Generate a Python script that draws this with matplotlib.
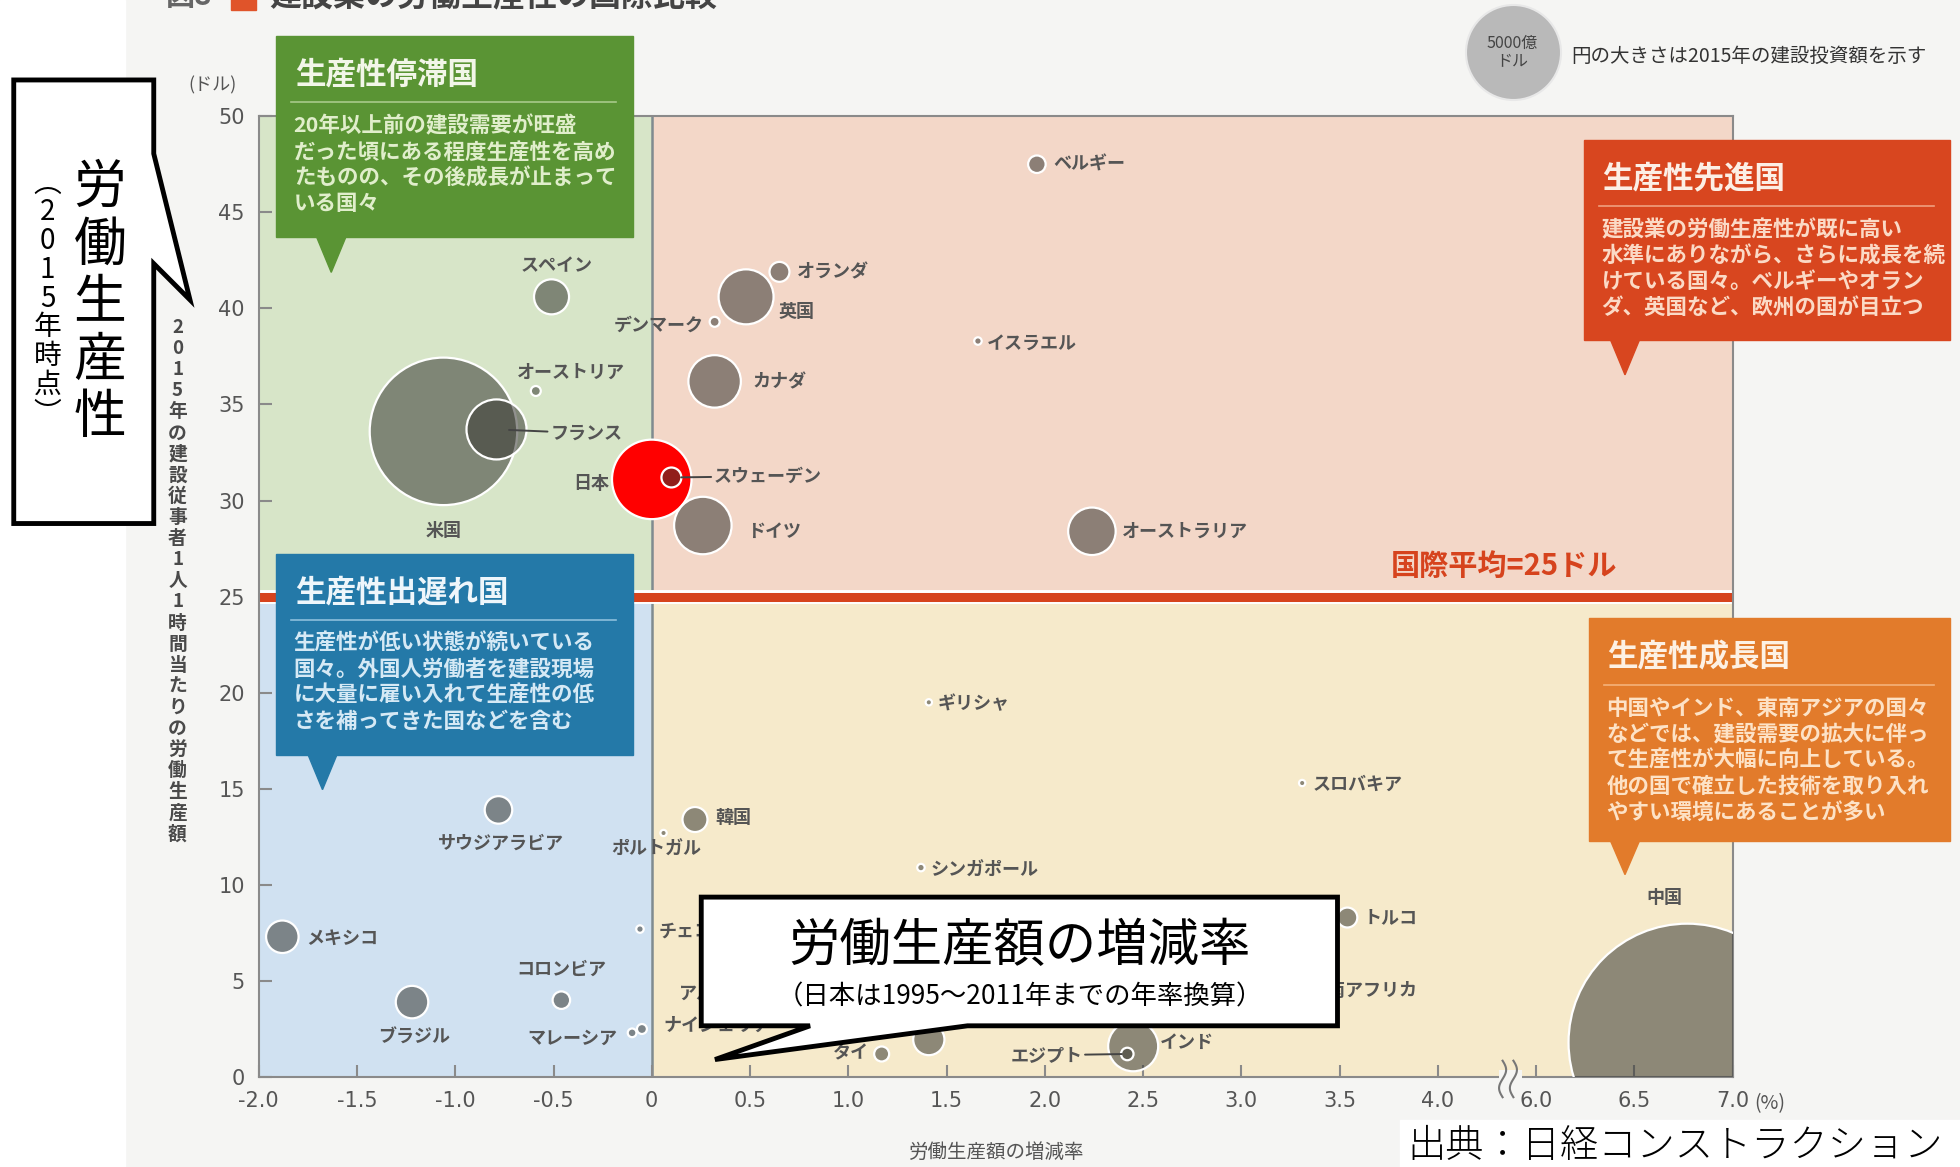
import numpy as np
import matplotlib
matplotlib.use('Agg')
import matplotlib.pyplot as plt
from matplotlib.patches import Rectangle, Polygon

plt.rcParams['font.family'] = ['Noto Sans CJK JP', 'DejaVu Sans']

# ---- data ----
countries = ['ベルギー', 'オランダ', '英国', 'デンマーク', 'イスラエル', 'カナダ',
             'スペイン', 'オーストリア', '米国', 'フランス', '日本', 'スウェーデン',
             'ドイツ', 'オーストラリア', 'ギリシャ', 'スロバキア', '韓国', 'ポルトガル',
             'サウジアラビア', 'シンガポール', 'メキシコ', 'チェコ', 'コロンビア', 'ブラジル',
             'マレーシア', 'ナイジェリア', 'アルゼンチン', 'タイ', '', 'エジプト',
             'インド', 'トルコ', '南アフリカ', '中国']
growth = [1.96, 0.65, 0.48, 0.32, 1.66, 0.32,
          -0.51, -0.59, -1.06, -0.79, 0.0, 0.10,
          0.26, 2.24, 1.41, 3.31, 0.22, 0.06,
          -0.78, 1.37, -1.88, -0.06, -0.46, -1.22,
          -0.10, -0.05, 0.50, 1.17, 1.41, 2.42,
          2.45, 3.54, 3.36, 6.77]                     # 労働生産額の増減率 (%)
productivity = [47.5, 41.9, 40.6, 39.3, 38.3, 36.2,
                40.6, 35.7, 33.6, 33.7, 31.1, 31.2,
                28.7, 28.4, 19.5, 15.3, 13.4, 12.7,
                13.9, 10.9, 7.3, 7.7, 4.0, 3.9,
                2.3, 2.5, 4.0, 1.2, 1.95, 1.2,
                1.6, 8.3, 4.5, 1.8]                   # ドル / 人・時間
invest = [170, 220, 1675, 55, 31, 1525,
          680, 55, 12050, 1995, 3500, 220,
          1830, 1250, 22, 22, 346, 22,
          420, 31, 585, 31, 170, 585,
          42, 55, 100, 125, 540, 87,
          1385, 220, 80, 31250]                       # 建設投資額 (億ドル)

y_ticks = [0, 5, 10, 15, 20, 25, 30, 35, 40, 45, 50]
x_tick_vals = [-2.0, -1.5, -1.0, -0.5, 0, 0.5, 1.0, 1.5, 2.0, 2.5, 3.0, 3.5, 4.0, 6.0, 6.5, 7.0]
x_tick_labels = ['-2.0', '-1.5', '-1.0', '-0.5', '0', '0.5', '1.0', '1.5', '2.0',
                 '2.5', '3.0', '3.5', '4.0', '6.0', '6.5', '7.0']
avg_line = 25
legend_value = 5000

# label offsets in reference pixels (dx, dy up, ha, leader)
label_pos = [(13, 0, 'left', 0), (14, 0, 'left', 0), (26, -12, 'left', 0), (-9, -3, 'right', 0),
             (7, -2, 'left', 0), (30, 0, 'left', 0), (4, 25, 'center', 0), (28, 15, 'center', 0),
             (0, -79, 'center', 0), (43, -3, 'left', 9), (-34, -3, 'right', 0), (34, 1, 'left', 7),
             (35, -5, 'left', 0), (24, 0, 'left', 0), (7, -1, 'left', 0), (8, -1, 'left', 0),
             (16, 2, 'left', 0), (-6, -13, 'center', 0), (2, -27, 'center', 0), (8, -2, 'left', 0),
             (19, -1, 'left', 0), (15, -2, 'left', 0), (0, 25, 'center', 0), (2, -28, 'center', 0),
             (-12, -4, 'right', 0), (17, 3, 'left', 0), (-57, 5, 'left', 0), (-10, 1, 'right', 0),
             (0, 0, 'left', 0), (-36, -1, 'right', 4), (21, 3, 'left', 0), (13, 0, 'left', 0),
             (12, 0, 'left', 0), (-18, 116, 'center', 0)]

W, H = 1568, 934   # reference frame used for layout


def F(x, y):
    return (x / W, 1 - y / H)


def brk(x):
    x = np.asarray(x, dtype=float)
    return np.where(x > 5, x - 1.5, x)


S_PER = 0.936  # marker area (pt^2) per 億ドル

fig = plt.figure(figsize=(19.6, 11.67), dpi=100)
fig.patch.set_facecolor('#f5f5f3')
fig.add_artist(Rectangle(F(0, H), 100 / W, 1, transform=fig.transFigure,
                         color='white', zorder=0))

ax = fig.add_axes([207 / W, 1 - 862 / H, (1386 - 207) / W, (862 - 93) / H])
ax.set_xlim(-2.0, 5.5)
ax.set_ylim(0, 50)

# quadrants
ax.fill_between([-2, 0], avg_line, 50, color='#d7e5c8', lw=0, zorder=0)
ax.fill_between([0, 5.5], avg_line, 50, color='#f3d7c8', lw=0, zorder=0)
ax.fill_between([-2, 0], 0, avg_line, color='#d0e1f1', lw=0, zorder=0)
ax.fill_between([0, 5.5], 0, avg_line, color='#f6eacb', lw=0, zorder=0)
ax.axvline(0, color='#7f8b90', lw=1.8, zorder=1)
ax.axhline(avg_line, color='white', lw=10, zorder=2)
ax.axhline(avg_line, color='#d6431d', lw=6.5, zorder=2)

# bubbles
gx = brk(growth)
py = np.array(productivity)
sz = np.array(invest) * S_PER
order = np.argsort(-sz)
fc = [(1.0, 0.0, 0.0, 1.0) if countries[i] == '日本' else (0.22, 0.22, 0.2, 0.55) for i in order]
ax.scatter(gx[order], py[order], s=sz[order], c=fc, edgecolors='white', linewidths=1.6, zorder=4)

for i, name in enumerate(countries):
    dx, dy, ha, lead = label_pos[i]
    if not name:
        continue
    kw = {}
    if lead:
        kw['arrowprops'] = dict(arrowstyle='-', color='#444444', lw=1.4,
                                shrinkA=0, shrinkB=lead)
    ax.annotate(name, xy=(gx[i], py[i]), xytext=(dx * 0.9, dy * 0.9),
                textcoords='offset points', ha=ha, va='center', fontsize=13,
                fontweight='bold', color='#555555', zorder=5, **kw)

# axes styling
for sp in ax.spines.values():
    sp.set_color('#8a8a8a')
    sp.set_linewidth(1.5)
ax.set_yticks(y_ticks)
ax.set_xticks(brk(x_tick_vals))
ax.set_xticklabels(x_tick_labels)
ax.tick_params(direction='in', length=9, width=1.5, color='#8a8a8a',
               labelsize=15, labelcolor='#555555')
ax.tick_params(axis='x', pad=10)
ax.tick_params(axis='y', pad=10)
for t in ax.get_xticklabels() + ax.get_yticklabels():
    t.set_family(['Liberation Sans Narrow', 'DejaVu Sans'])

# axis break
bx = 4.36
ax.add_patch(Rectangle((bx - 0.05, -0.35), 0.12, 0.7, color='#f5f5f3', lw=0,
                       clip_on=False, zorder=6))
tt = np.linspace(-1, 1, 30)
for k in (0.0, 0.055):
    ax.plot(bx - 0.03 + k + 0.018 * np.sin(tt * np.pi), tt * 0.95 - 0.1, color='#777777',
            lw=1.5, clip_on=False, zorder=7)

# text around axes
fig.text(*F(170, 68), '(ドル)', ha='center', va='center', fontsize=13, color='#555555')
fig.text(*F(1403, 883), '(%)', ha='left', va='center', fontsize=14, color='#555555')
fig.text(*F(797, 922), '労働生産額の増減率', ha='center', va='center', fontsize=14, color='#555555')
fig.text(*F(1113, 453), '国際平均=25ドル', ha='left', va='center', fontsize=21,
         fontweight='bold', color='#d6431d')

ylab = '2015年の建設従事者1人1時間当たりの労働生産額'
for k, ch in enumerate(ylab):
    fig.text(*F(142, 262 + k * 16.9), ch, ha='center', va='center', fontsize=13.5,
             fontweight='bold', color='#4a4a4a')

# title (cut at the top, as in the scan)
fig.text(*F(133, -3), '図8', ha='left', va='center', fontsize=21, fontweight='bold', color='#666666')
fig.add_artist(Rectangle(F(185, 8), 20 / W, 20 / H, transform=fig.transFigure, color='#e0542a'))
fig.text(*F(215, -3), '建設業の労働生産性の国際比較', ha='left', va='center', fontsize=23,
         fontweight='bold', color='#444444')

# size legend
ax.scatter([F(1210, 42)[0]], [F(1210, 42)[1]], s=legend_value * S_PER, color='#b9b9b9',
           edgecolors='#e8e8e8', linewidths=1.5, transform=fig.transFigure, clip_on=False)
fig.text(*F(1210, 42), '5000億\nドル', ha='center', va='center', fontsize=11.5,
         color='#444444', linespacing=1.1)
fig.text(*F(1257, 45), '円の大きさは2015年の建設投資額を示す', ha='left', va='center',
         fontsize=14, color='#333333')


# category boxes
def box(x0, y0, x1, y1, tipx, tipy, color, title, body, tcol, bcol, lcol):
    fig.add_artist(Rectangle(F(x0, y1), (x1 - x0) / W, (y1 - y0) / H,
                             transform=fig.transFigure, color=color, zorder=8))
    fig.add_artist(Polygon([F(tipx - 12, y1 - 1), F(tipx + 12, y1 - 1), F(tipx, tipy)],
                           closed=True, transform=fig.transFigure, color=color, zorder=8))
    fig.text(*F(x0 + 15, y0 + 31), title, ha='left', va='center', fontsize=22,
             fontweight='bold', color=tcol, zorder=9)
    fig.add_artist(plt.Line2D([(x0 + 12) / W, (x1 - 13) / W], [F(0, y0 + 53)[1]] * 2,
                              transform=fig.transFigure, color=lcol, lw=1.2, zorder=9))
    for k, line in enumerate(body):
        fig.text(*F(x0 + 14, y0 + 72 + k * 20.7), line, ha='left', va='center',
                 fontsize=15.5, fontweight='bold', color=bcol, zorder=9)


box(221, 29, 506, 190, 265, 218, '#5a9434', '生産性停滞国',
    ['20年以上前の建設需要が旺盛', 'だった頃にある程度生産性を高め',
     'たものの、その後成長が止まって', 'いる国々'],
    '#f2f6e8', '#e0eecb', '#a8c98a')
box(221, 443, 506, 604, 258, 632, '#2479a8', '生産性出遅れ国',
    ['生産性が低い状態が続いている', '国々。外国人労働者を建設現場',
     'に大量に雇い入れて生産性の低', 'さを補ってきた国などを含む'],
    '#eef6fb', '#d5e9f5', '#8cbfdc')
box(1267, 112, 1560, 272, 1300, 300, '#d8461f', '生産性先進国',
    ['建設業の労働生産性が既に高い', '水準にありながら、さらに成長を続',
     'けている国々。ベルギーやオラン', 'ダ、英国など、欧州の国が目立つ'],
    '#fcefe6', '#fbdac6', '#f0a07e')
box(1271, 495, 1560, 673, 1300, 700, '#e27b2b', '生産性成長国',
    ['中国やインド、東南アジアの国々', 'などでは、建設需要の拡大に伴っ',
     'て生産性が大幅に向上している。', '他の国で確立した技術を取り入れ',
     'やすい環境にあることが多い'],
    '#fdf1e4', '#fde2c6', '#f5b27a')

# overlay callouts
left_call = [(11, 64), (123, 64), (123, 123), (152, 240), (123, 211), (123, 419), (11, 419)]
fig.add_artist(Polygon([F(*p) for p in left_call], closed=True, transform=fig.transFigure,
                       facecolor='white', edgecolor='black', lw=3.5, zorder=10))
for k, ch in enumerate('労働生産性'):
    fig.text(*F(80, 150 + k * 46), ch, ha='center', va='center', fontsize=38,
             color='black', zorder=11)
for k, ch in enumerate('︵2015年時点︶'):
    fig.text(*F(38, 147 + k * 23), ch, ha='center', va='center', fontsize=20,
             color='black', zorder=11)

bottom_call = [(561, 718), (1070, 718), (1070, 821), (774, 821), (572, 848), (648, 821), (561, 821)]
fig.add_artist(Polygon([F(*p) for p in bottom_call], closed=True, transform=fig.transFigure,
                       facecolor='white', edgecolor='black', lw=3.5, zorder=10))
fig.text(*F(816, 757), '労働生産額の増減率', ha='center', va='center', fontsize=37,
         color='black', zorder=11)
fig.text(*F(816, 798), '（日本は1995～2011年までの年率換算）', ha='center', va='center',
         fontsize=19, color='black', zorder=11)

# source
fig.add_artist(Rectangle(F(1120, H), (W - 1120) / W, 38 / H, transform=fig.transFigure,
                         color='white', zorder=0))
fig.text(*F(1126, 917), '出典：日経コンストラクション', ha='left', va='center', fontsize=27.5,
         fontweight='light', color='black')

fig.savefig('out.png', dpi=100, facecolor=fig.get_facecolor())
